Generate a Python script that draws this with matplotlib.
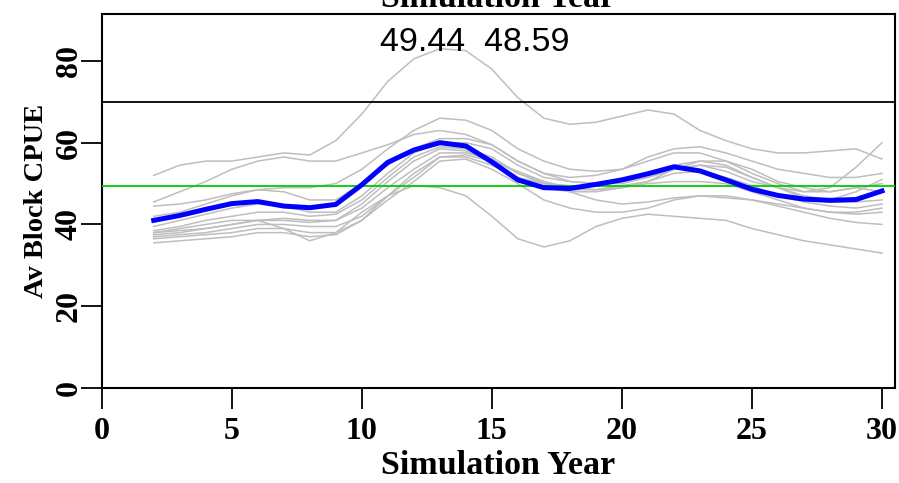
import matplotlib
matplotlib.use("Agg")
import matplotlib.pyplot as plt

years = list(range(2, 31))

mean_cpue = [41.0, 42.2, 43.7, 45.1, 45.6, 44.5, 44.1, 44.9, 49.7, 55.2, 58.2, 60.0, 59.2, 55.3,
             50.9, 49.0, 48.8, 49.8, 50.9, 52.4, 54.1, 53.1, 50.9, 48.6, 47.1, 46.2, 45.9, 46.1, 48.2]

sim1 = [52, 54.5, 55.5, 55.5, 56.5, 57.5, 57, 60.5, 67, 75, 80.5, 83, 82.5, 78, 71, 66, 64.5, 65, 66.5, 68, 67, 63, 60.5, 58.5, 57.5, 57.5, 58, 58.5, 56]
sim2 = [45.5, 48, 50.5, 53.5, 55.5, 56.5, 55.5, 55.5, 57.5, 59.5, 62, 63, 62, 59.5, 55.5, 52.5, 51.5, 52, 53.5, 56.5, 58.5, 59, 57.5, 55.5, 53.5, 52.5, 51.5, 51.5, 52.5]
sim3 = [44.5, 45, 46, 47.5, 48.5, 49, 49, 50, 53.5, 58.5, 63, 66, 65.5, 63, 58.5, 55.5, 53.5, 53, 53.5, 55.5, 57.5, 57.5, 55.5, 52.5, 50, 48, 48, 49, 48]
sim4 = [42, 43, 45, 47, 48.5, 48, 46, 46, 50, 54.5, 58.5, 61, 61, 59.5, 55.5, 52.5, 50.5, 50, 50, 51.5, 53.5, 54.5, 53, 50.5, 49, 47, 46, 48, 51]
sim5 = [39.5, 41, 42.5, 44, 45, 44.5, 43, 43, 47, 52.5, 57.5, 60, 60, 58.5, 54.5, 51.5, 50.5, 50, 51, 52.5, 54.5, 55.5, 54.5, 51.5, 49, 48, 49, 54, 60]
sim6 = [38.5, 39.5, 41, 42, 43, 43, 42, 42.5, 46, 51.5, 56.5, 59, 58.5, 56.5, 52.5, 50, 48.5, 48.5, 49.5, 50.5, 52.5, 53, 51.5, 49.5, 47, 45.5, 44.5, 44, 45]
sim7 = [38, 38.5, 39, 40, 41, 41, 40.5, 41, 45, 50.5, 55.5, 58.5, 58, 55.5, 51.5, 49, 48, 48, 49, 50, 50.5, 50.5, 50, 48, 46, 44, 43, 43, 44]
sim8 = [37.5, 38, 39, 40, 41, 41.5, 41, 41, 44, 49, 53.5, 57.5, 57.5, 56, 52.5, 50.5, 49, 48.5, 49, 50.5, 53.5, 55.5, 55.5, 53.5, 50.5, 49, 48, 49, 50]
sim9 = [37, 37.5, 38, 39, 40, 40, 39.5, 39.5, 42, 47, 51.5, 56.5, 57, 55.5, 53, 50.5, 48, 46, 45, 45.5, 46.5, 47, 46.5, 46, 45, 44, 43, 42.5, 43]
sim10 = [36.5, 37, 37.5, 38, 39, 39, 38, 38, 41, 46, 50.5, 55.5, 56, 53.5, 50, 46, 44, 43, 43, 44, 46, 47, 47, 46, 44.5, 43, 41.5, 40.5, 40]
sim11 = [38, 39, 40, 41, 41, 39, 36, 38, 43, 47, 49.5, 49, 47, 42, 36.5, 34.5, 36, 39.5, 41.5, 42.5, 42, 41.5, 41, 39, 37.5, 36, 35, 34, 33]
sim12 = [35.5, 36, 36.5, 37, 38, 38, 37, 37.5, 41, 47, 52.5, 56.5, 56.5, 54.5, 51.5, 50, 49.5, 49.5, 50.5, 51.5, 53.5, 54.5, 54, 51.5, 49, 46.5, 45.5, 45.5, 46]

sims = [sim1, sim2, sim3, sim4, sim5, sim6, sim7, sim8, sim9, sim10, sim11, sim12]

target_line = 49.44
upper_line = 70
annotation = "49.44  48.59"

x_ticks = [0, 5, 10, 15, 20, 25, 30]
y_ticks = [0, 20, 40, 60, 80]

fig = plt.figure(figsize=(8.99, 4.83), dpi=100)
ax = fig.add_axes([101.7 / 899, (483 - 388) / 483, (895 - 101.7) / 899, (388 - 13.5) / 483])

for s in sims:
    ax.plot(years, s, color="#bebebe", lw=1.1, zorder=2)
ax.axhline(target_line, color="#00cc00", lw=1.3, zorder=3)
ax.axhline(upper_line, color="black", lw=1.3, zorder=3)
ax.plot(years, mean_cpue, color="#0000ff", lw=3.6, zorder=4)

ax.set_xlim(0, 30.5)
ax.set_ylim(0, 91.6)
ax.set_xticks(x_ticks)
ax.set_yticks(y_ticks)

serif_bold = dict(family="Liberation Serif", weight="bold")
ax.set_xticklabels([str(v) for v in x_ticks], fontsize=23, **serif_bold)
ax.set_yticklabels([str(v) for v in y_ticks], fontsize=23, rotation=90, va="center", **serif_bold)
ax.tick_params(axis="x", length=15, width=1.3, direction="out", pad=6)
ax.tick_params(axis="y", length=15, width=1.3, direction="out", pad=-2)

for sp in ax.spines.values():
    sp.set_linewidth(1.5)

ax.set_xlabel("Simulation Year", fontsize=24.5, labelpad=3, **serif_bold)
ax.set_ylabel("Av Block CPUE", fontsize=20.5, labelpad=4, **serif_bold)

ax.text(14.36, 84.6, annotation, ha="center", va="center", fontsize=24.5, family="Liberation Sans")

fig.text(0.554, 1 - 7 / 483, "Simulation Year", ha="center", va="baseline", fontsize=24.5, **serif_bold)

fig.savefig("out.png", dpi=100)
